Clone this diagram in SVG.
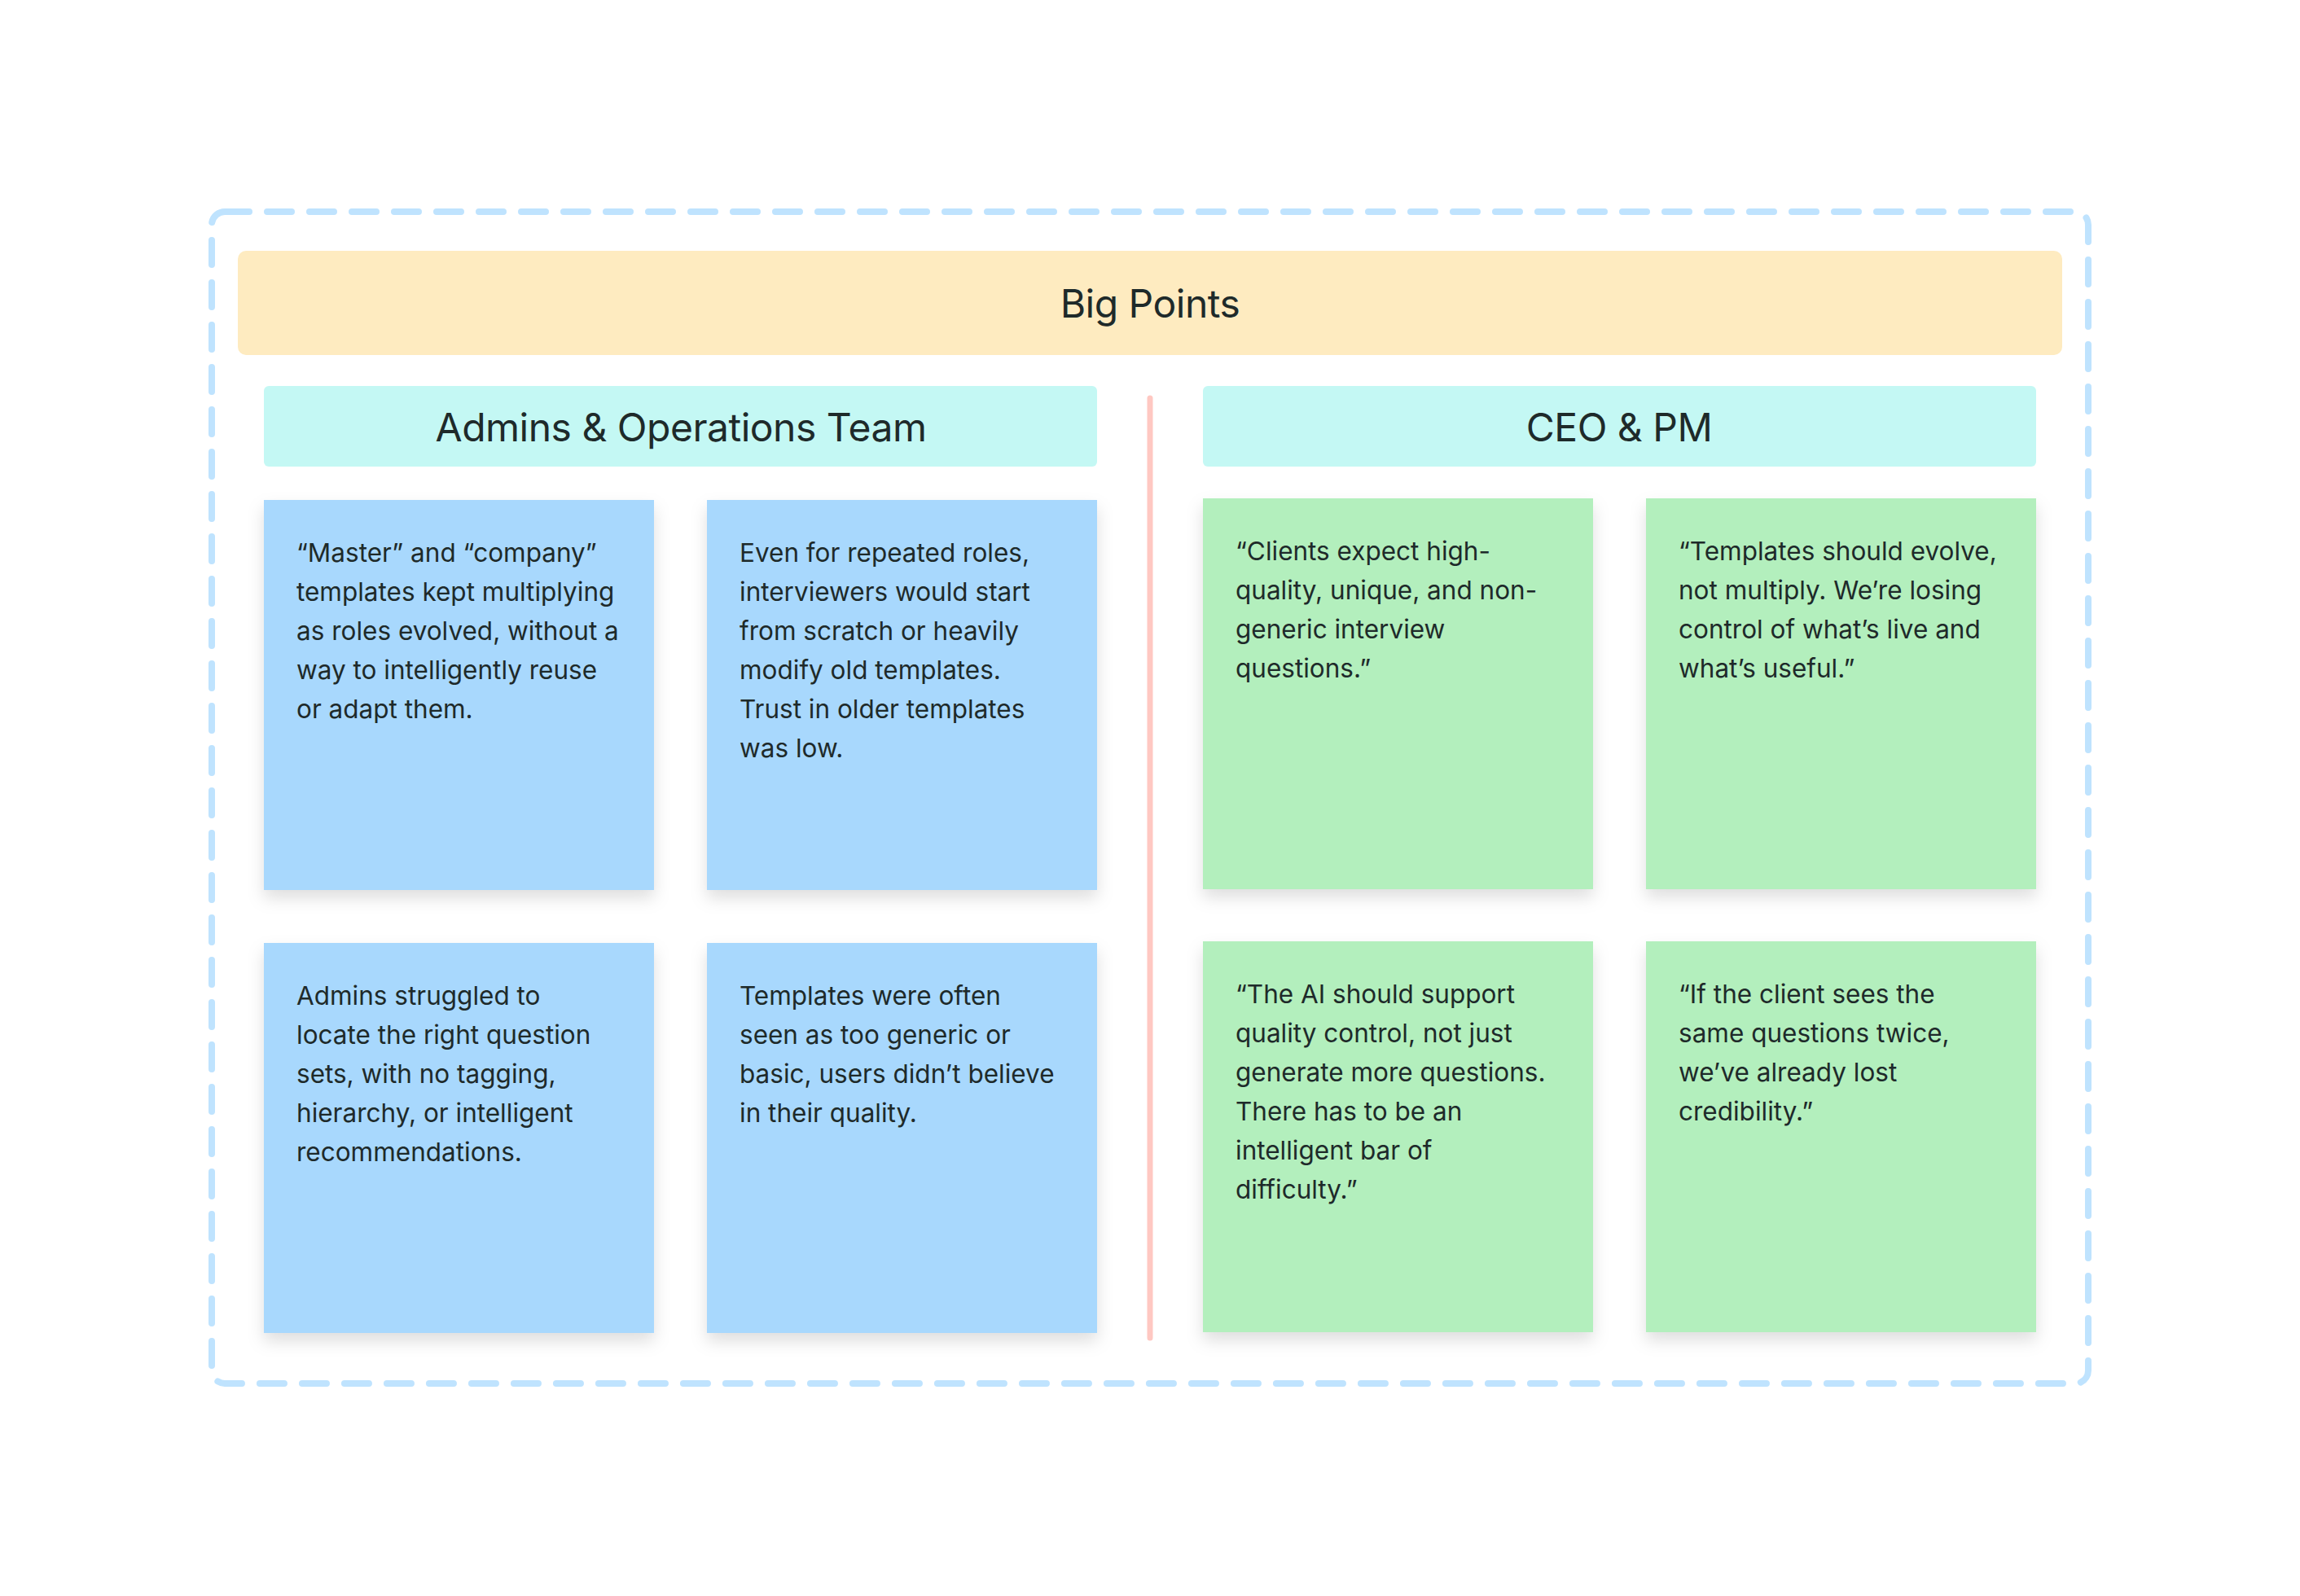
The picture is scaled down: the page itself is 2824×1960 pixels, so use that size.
<svg xmlns="http://www.w3.org/2000/svg" width="2824" height="1960" viewBox="0 0 2824 1960">
  <defs>
    <filter id="shadow" x="-10%" y="-10%" width="120%" height="125%">
      <feDropShadow dx="0" dy="10" stdDeviation="10" flood-color="#000" flood-opacity="0.13"/>
    </filter>
  </defs>
  <style>
    .title { font-family: Inter, "Liberation Sans", sans-serif; font-size: 48px; letter-spacing: -0.5px; fill: #1E2A2A; text-anchor: middle; }
    .note { font-family: Inter, "Liberation Sans", sans-serif; font-size: 31.5px; fill: #1E2A2A; }
    .blue { fill: #A8D8FD; filter: url(#shadow); }
    .green { fill: #B3EFBD; filter: url(#shadow); }
    .head { fill: #C4F8F4; }
  </style>
  <rect width="2824" height="1960" fill="#FFFFFF"/>

  <g id="frame">
    <rect x="260" y="260" width="2304" height="1439" rx="16" ry="16" fill="none" stroke="#BFE3FE" stroke-width="8" stroke-linecap="round" stroke-dasharray="30 22"/>
  </g>

  <g id="big-points">
    <rect x="292" y="308" width="2240" height="128" rx="10" ry="10" fill="#FEEBC0"/>
    <text class="title" x="1412" y="390">Big Points</text>
  </g>

  <g id="connectors">
    <line x1="1412" y1="489" x2="1412" y2="1643" stroke="#FFC8C2" stroke-width="7" stroke-linecap="round"/>
  </g>

  <g id="header-admins">
    <rect class="head" x="324" y="474" width="1023" height="99" rx="6" ry="6"/>
    <text class="title" x="836" y="542">Admins &amp; Operations Team</text>
  </g>

  <g id="header-ceo">
    <rect class="head" x="1477" y="474" width="1023" height="99" rx="6" ry="6"/>
    <text class="title" x="1988" y="542">CEO &amp; PM</text>
  </g>

  <g id="note-admin-1">
    <rect class="blue" x="324" y="614" width="479" height="479"/>
    <text class="note" x="364" y="690">
      <tspan x="364" y="690">“Master” and “company”</tspan>
      <tspan x="364" y="738">templates kept multiplying</tspan>
      <tspan x="364" y="786">as roles evolved, without a</tspan>
      <tspan x="364" y="834">way to intelligently reuse</tspan>
      <tspan x="364" y="882">or adapt them.</tspan>
    </text>
  </g>

  <g id="note-admin-2">
    <rect class="blue" x="868" y="614" width="479" height="479"/>
    <text class="note" x="908" y="690">
      <tspan x="908" y="690">Even for repeated roles,</tspan>
      <tspan x="908" y="738">interviewers would start</tspan>
      <tspan x="908" y="786">from scratch or heavily</tspan>
      <tspan x="908" y="834">modify old templates.</tspan>
      <tspan x="908" y="882">Trust in older templates</tspan>
      <tspan x="908" y="930">was low.</tspan>
    </text>
  </g>

  <g id="note-admin-3">
    <rect class="blue" x="324" y="1158" width="479" height="479"/>
    <text class="note" x="364" y="1234">
      <tspan x="364" y="1234">Admins struggled to</tspan>
      <tspan x="364" y="1282">locate the right question</tspan>
      <tspan x="364" y="1330">sets, with no tagging,</tspan>
      <tspan x="364" y="1378">hierarchy, or intelligent</tspan>
      <tspan x="364" y="1426">recommendations.</tspan>
    </text>
  </g>

  <g id="note-admin-4">
    <rect class="blue" x="868" y="1158" width="479" height="479"/>
    <text class="note" x="908" y="1234">
      <tspan x="908" y="1234">Templates were often</tspan>
      <tspan x="908" y="1282">seen as too generic or</tspan>
      <tspan x="908" y="1330">basic, users didn’t believe</tspan>
      <tspan x="908" y="1378">in their quality.</tspan>
    </text>
  </g>

  <g id="note-ceo-1">
    <rect class="green" x="1477" y="612" width="479" height="480"/>
    <text class="note" x="1517" y="688">
      <tspan x="1517" y="688">“Clients expect high-</tspan>
      <tspan x="1517" y="736">quality, unique, and non-</tspan>
      <tspan x="1517" y="784">generic interview</tspan>
      <tspan x="1517" y="832">questions.”</tspan>
    </text>
  </g>

  <g id="note-ceo-2">
    <rect class="green" x="2021" y="612" width="479" height="480"/>
    <text class="note" x="2061" y="688">
      <tspan x="2061" y="688">“Templates should evolve,</tspan>
      <tspan x="2061" y="736">not multiply. We’re losing</tspan>
      <tspan x="2061" y="784">control of what’s live and</tspan>
      <tspan x="2061" y="832">what’s useful.”</tspan>
    </text>
  </g>

  <g id="note-ceo-3">
    <rect class="green" x="1477" y="1156" width="479" height="480"/>
    <text class="note" x="1517" y="1232">
      <tspan x="1517" y="1232">“The AI should support</tspan>
      <tspan x="1517" y="1280">quality control, not just</tspan>
      <tspan x="1517" y="1328">generate more questions.</tspan>
      <tspan x="1517" y="1376">There has to be an</tspan>
      <tspan x="1517" y="1424">intelligent bar of</tspan>
      <tspan x="1517" y="1472">difficulty.”</tspan>
    </text>
  </g>

  <g id="note-ceo-4">
    <rect class="green" x="2021" y="1156" width="479" height="480"/>
    <text class="note" x="2061" y="1232">
      <tspan x="2061" y="1232">“If the client sees the</tspan>
      <tspan x="2061" y="1280">same questions twice,</tspan>
      <tspan x="2061" y="1328">we’ve already lost</tspan>
      <tspan x="2061" y="1376">credibility.”</tspan>
    </text>
  </g>
</svg>
